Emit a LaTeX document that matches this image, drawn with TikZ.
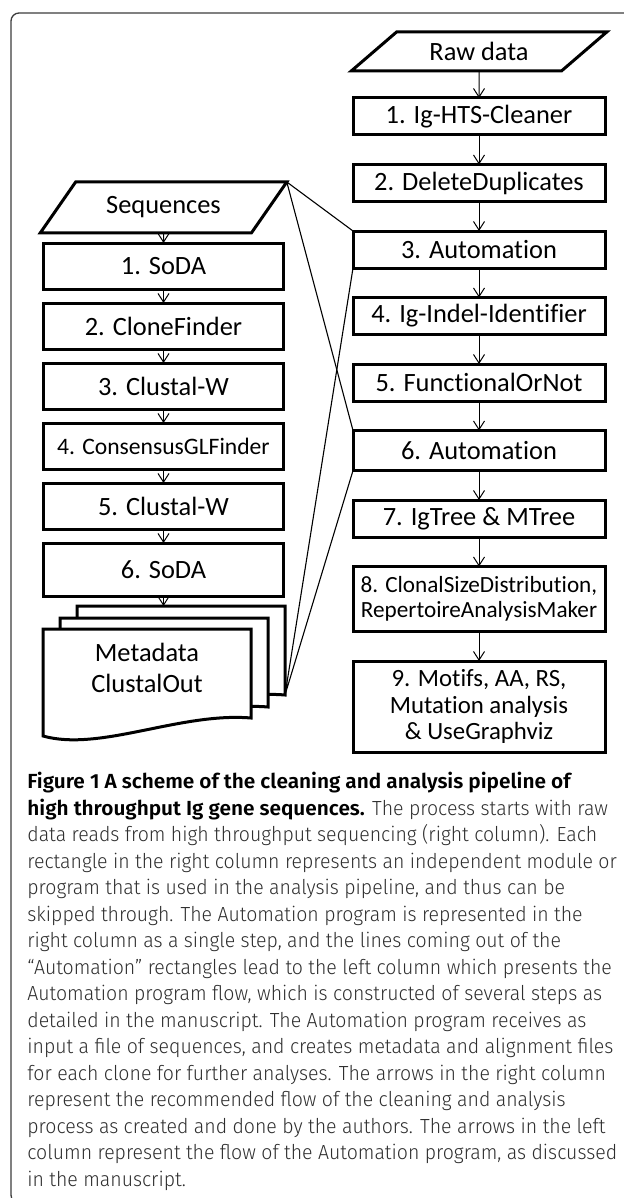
\documentclass[tikz,border=0pt]{standalone}
\usepackage{fontspec}
\setmainfont{Carlito}[Ligatures=NoCommon]
\newfontfamily\capfont{Fira Sans}[UprightFont=* Light, BoldFont=* SemiBold, UprightFeatures={FakeStretch=0.955}, BoldFeatures={FakeStretch=1.02}]
\usetikzlibrary{positioning,arrows.meta,shapes.geometric}
\definecolor{framegray}{HTML}{3C3C3C}
\definecolor{capgray}{HTML}{2E2E2E}
\newcommand\docpage[2]{\draw[line width=1.5pt, fill=white] (#1,#2) -- ++(0,107)
  .. controls +(57,16) and +(-71,-6) .. ++(208,-18) -- ++(0,-89) -- cycle;}

\begin{document}
\begin{tikzpicture}[x=0.5pt, y=-0.5pt, font=\fontsize{13.2}{15.5}\selectfont, node distance=14.75pt,
  stepbox/.style={draw, line width=1.5pt, outer sep=0pt, inner sep=1pt, minimum width=126pt, minimum height=18.5pt, align=center},
  autobox/.style={stepbox, minimum width=120pt, minimum height=23pt},
  iobox/.style={draw, line width=1.5pt, outer sep=0pt, inner sep=1pt, trapezium, trapezium stretches=true},
  arr/.style={line width=0.5pt, -{Straight Barb[length=4.3pt, width=5.5pt]}},
  link/.style={line width=0.55pt}]
\useasboundingbox (0,0) rectangle (624,1198);
\clip (0,0) rectangle (624,1198);
\draw[framegray, line width=0.65pt, rounded corners=4pt] (11,13) rectangle (650,1203);
% right column: pipeline
\node[iobox, trapezium left angle=38.5, trapezium right angle=141.5, minimum width=128pt, minimum height=19.5pt] (raw) at (479,51.5) {Raw data};
\node[stepbox, below=13.5pt of raw] (b1) {1. Ig-HTS-Cleaner};
\node[stepbox, below=of b1] (b2) {2. DeleteDuplicates};
\node[stepbox, below=of b2] (b3) {3. Automation};
\node[stepbox, below=of b3] (b4) {4. Ig-Indel-Identifier};
\node[stepbox, below=of b4] (b5) {5. FunctionalOrNot};
\node[stepbox, below=of b5, minimum height=20pt] (b6) {6. Automation};
\node[stepbox, below=of b6] (b7) {7. IgTree \& MTree};
\node[stepbox, below=of b7, minimum height=32.5pt, font=\fontsize{11.6}{12.5}\selectfont] (b8) {8. ClonalSizeDistribution,\\RepertoireAnalysisMaker};
\node[stepbox, below=of b8, minimum height=45.5pt, font=\fontsize{12.4}{13.3}\selectfont] (b9) {9. Motifs, AA, RS,\\Mutation analysis\\\& UseGraphviz};
\foreach \a/\b in {raw/b1, b1/b2, b2/b3, b3/b4, b4/b5, b5/b6, b6/b7, b7/b8, b8/b9}
  \draw[arr] (\a) -- (\b);
% left column: automation flow
\node[iobox, trapezium left angle=46.7, trapezium right angle=133.3, minimum width=123.5pt, minimum height=25.5pt] (seq) at (163.5,207.5) {Sequences};
\node[autobox, below=5pt of seq] (a1) {1. SoDA};
\node[autobox, below=7pt of a1] (a2) {2. CloneFinder};
\node[autobox, below=7pt of a2] (a3) {3. Clustal-W};
\node[autobox, below=7pt of a3, font=\fontsize{11.8}{13}\selectfont] (a4) {4. ConsensusGLFinder};
\node[autobox, below=7pt of a4] (a5) {5. Clustal-W};
\node[autobox, below=7pt of a5, minimum height=26.5pt] (a6) {6. SoDA};
\foreach \a/\b in {seq/a1, a1/a2, a2/a3, a3/a4, a4/a5, a5/a6}
  \draw[arr] (\a) -- (\b);
% output files
\docpage{77}{606} \docpage{60}{618} \docpage{43}{629}
\node[align=center] (meta) at (147,668) {Metadata\\ClustalOut};
\coordinate (stacktop) at (164,606);
\coordinate (stackend) at (285,695);
\draw[arr] (a6.south) -- (a6.south |- stacktop);
% links to the automation steps
\draw[link] (seq.top right corner) -- (b3.north west) (seq.top right corner) -- (b6.north west);
\draw[link] (stackend) -- (b3.south west) (stackend) -- (b6.south west);
% caption
\node[anchor=north west, align=left, inner sep=0pt, text=capgray, font=\capfont\fontsize{10.2}{13.25}\selectfont] (caption) at (27,772) {%
{\color{black}\bfseries Figure 1 A scheme of the cleaning and analysis pipeline of}\\
{\color{black}\bfseries high throughput Ig gene sequences.} The process starts with raw\\
data reads from high throughput sequencing (right column). Each\\
rectangle in the right column represents an independent module or\\
program that is used in the analysis pipeline, and thus can be\\
skipped through. The Automation program is represented in the\\
right column as a single step, and the lines coming out of the\\
“Automation” rectangles lead to the left column which presents the\\
Automation program flow, which is constructed of several steps as\\
detailed in the manuscript. The Automation program receives as\\
input a file of sequences, and creates metadata and alignment files\\
for each clone for further analyses. The arrows in the right column\\
represent the recommended flow of the cleaning and analysis\\
process as created and done by the authors. The arrows in the left\\
column represent the flow of the Automation program, as discussed\\
in the manuscript.};
\end{tikzpicture}
\end{document}
